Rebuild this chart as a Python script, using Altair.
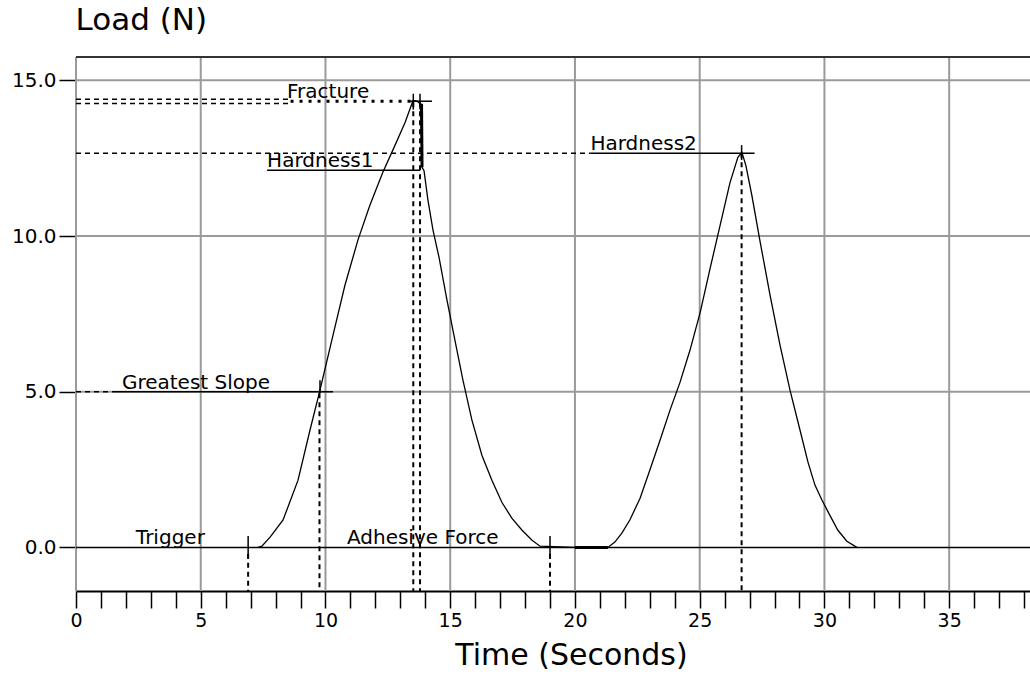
import altair as alt
import pandas as pd

# ---------------- axis ranges / ticks ----------------
X_MIN, X_MAX = 0.0, 38.24
Y_MIN, Y_MAX = -1.40, 15.75
x_ticks = list(range(0, 39))
y_ticks = [0, 5, 10, 15]
grid_x = [0, 5, 10, 15, 20, 25, 30, 35]
grid_y = [5, 10, 15]

# ---------------- measured trace ----------------
time_s = [7.30, 7.45, 7.78, 8.30, 8.90, 9.38, 9.78, 10.30, 10.78, 11.30,
          11.78, 12.30, 12.79, 13.19, 13.51, 13.67, 13.83, 13.87, 13.95, 14.11,
          14.31, 14.55, 14.87, 15.19, 15.51, 15.87, 16.27, 16.67, 17.07, 17.47,
          17.88, 18.28, 18.60, 20.00, 21.32, 21.60, 21.88, 22.20, 22.61, 23.00,
          23.41, 23.81, 24.21, 24.61, 25.02, 25.42, 25.82, 26.21, 26.53, 26.69,
          26.85, 27.09, 27.41, 27.82, 28.22, 28.62, 29.02, 29.34, 29.62, 29.90,
          30.22, 30.54, 30.90, 31.30]
load_n = [0.00, 0.04, 0.33, 0.88, 2.16, 3.77, 5.05, 6.81, 8.42, 9.87,
          10.99, 12.05, 12.92, 13.65, 14.35, 14.33, 14.23, 12.21, 12.10, 11.14,
          10.19, 9.32, 7.94, 6.65, 5.37, 4.09, 2.96, 2.16, 1.45, 0.94,
          0.55, 0.23, 0.04, 0.00, 0.00, 0.17, 0.46, 0.88, 1.58, 2.48,
          3.44, 4.41, 5.30, 6.33, 7.55, 8.97, 10.35, 11.70, 12.53, 12.69,
          12.27, 11.31, 9.87, 8.10, 6.50, 5.05, 3.77, 2.74, 2.00, 1.52,
          1.03, 0.55, 0.20, 0.00]

# thicker pieces of the trace
thick_seg = ["drop", "drop", "flat", "flat"]
thick_t = [13.85, 13.87, 20.0, 21.32]
thick_l = [14.25, 12.21, 0.0, 0.0]

# ---------------- annotations ----------------
label_text = ["Fracture", "Hardness1", "Hardness2", "Greatest Slope", "Trigger", "Adhesive Force"]
label_t = [8.46, 7.66, 20.62, 1.84, 2.40, 10.86]
label_l = [14.33, 12.11, 12.66, 5.0, 0.0, 0.0]

# solid underline segments (t1, t2, load)
under_t1 = [7.66, 20.62, 1.56, 13.40]
under_t2 = [13.79, 27.20, 10.30, 14.27]
under_l = [12.11, 12.66, 5.0, 14.33]

# dotted fracture underline
dot_t1 = [8.60]
dot_t2 = [13.50]
dot_l = [14.33]

# dashed horizontal guides (from t=0)
guide_t2 = [8.60, 8.60, 20.62, 1.56]
guide_l = [14.39, 14.26, 12.66, 5.0]

# dashed vertical event lines
event_t = [6.90, 9.76, 13.52, 13.79, 19.00, 26.68]
event_top = [-0.2, 4.95, 14.30, 14.30, -0.2, 12.66]

# short solid crosshair ticks
cross_t = [6.90, 9.78, 13.52, 13.79, 19.00, 26.68]
cross_lo = [-0.37, 4.95, 14.06, 14.06, -0.37, 12.44]
cross_hi = [0.37, 5.37, 14.57, 14.57, 0.37, 12.92]

FONT = "DejaVu Sans"

xs = alt.Scale(domain=[X_MIN, X_MAX], nice=False, zero=False)
ys = alt.Scale(domain=[Y_MIN, Y_MAX], nice=False, zero=False)

x_axis = alt.Axis(values=x_ticks,
                  labelExpr="datum.value % 5 === 0 ? datum.label : ''",
                  tickSize=17, tickColor="black", tickWidth=1.5,
                  domainColor="black", domainWidth=2, grid=False,
                  labelFont=FONT, labelFontSize=19, labelColor="black",
                  labelPadding=3, labelFlush=False, labelOverlap=False,
                  titleFont=FONT, titleFontSize=30, titleFontWeight="normal",
                  titleColor="black", titleX=495, titleY=73,
                  titleAlign="center", titleBaseline="alphabetic")
y_axis = alt.Axis(values=y_ticks, format=".1f", tickSize=17,
                  tickColor="black", tickWidth=1.5, domain=False, grid=False,
                  labelFont=FONT, labelFontSize=20, labelColor="black",
                  labelPadding=3,
                  titleFont=FONT, titleFontSize=31, titleFontWeight="normal",
                  titleColor="black", titleAngle=0, titleX=-1, titleY=-28,
                  titleAlign="left", titleBaseline="alphabetic")


def X(f):
    return alt.X(f, type="quantitative", scale=xs, axis=x_axis, title="Time (Seconds)")


def Y(f):
    return alt.Y(f, type="quantitative", scale=ys, axis=y_axis, title="Load (N)")


# grid lines
vgrid = pd.DataFrame({"t": grid_x, "lo": Y_MIN, "hi": Y_MAX})
hgrid = pd.DataFrame({"l": grid_y, "t1": X_MIN, "t2": X_MAX})

vgrid_layer = alt.Chart(vgrid).mark_rule(color="#9a9a9a", strokeWidth=2).encode(
    x=X("t"), y=Y("lo"), y2="hi:Q"
)
hgrid_layer = alt.Chart(hgrid).mark_rule(color="#9a9a9a", strokeWidth=2).encode(
    x=X("t1"), x2="t2:Q", y=Y("l")
)

frame = pd.DataFrame({"t1": [X_MIN], "t2": [X_MAX], "l": [Y_MAX], "z": [0.0]})
top_layer = alt.Chart(frame).mark_rule(color="#333333", strokeWidth=2).encode(
    x=X("t1"), x2="t2:Q", y=Y("l")
)
zero_layer = alt.Chart(frame).mark_rule(color="black", strokeWidth=1.5).encode(
    x=X("t1"), x2="t2:Q", y=Y("z")
)

trace = pd.DataFrame({"t": time_s, "load": load_n})
trace_layer = alt.Chart(trace).mark_line(color="black", strokeWidth=1.3).encode(
    x=X("t"), y=Y("load"), order="t:Q"
)

thick = pd.DataFrame({"seg": thick_seg, "t": thick_t, "load": thick_l})
thick_layer = alt.Chart(thick).mark_line(color="black", strokeWidth=3).encode(
    x=X("t"), y=Y("load"), detail="seg:N"
)

guides = pd.DataFrame({"t1": 0.0, "t2": guide_t2, "l": guide_l})
guide_layer = alt.Chart(guides).mark_rule(color="black", strokeWidth=1.5,
                                          strokeDash=[5, 4]).encode(
    x=X("t1"), x2="t2:Q", y=Y("l")
)

events = pd.DataFrame({"t": event_t, "top": event_top, "bot": Y_MIN})
event_layer = alt.Chart(events).mark_rule(color="black", strokeWidth=2,
                                          strokeDash=[5, 4]).encode(
    x=X("t"), y=Y("top"), y2="bot:Q"
)

unders = pd.DataFrame({"t1": under_t1, "t2": under_t2, "l": under_l})
under_layer = alt.Chart(unders).mark_rule(color="black", strokeWidth=1.5).encode(
    x=X("t1"), x2="t2:Q", y=Y("l")
)

dots = pd.DataFrame({"t1": dot_t1, "t2": dot_t2, "l": dot_l})
dot_layer = alt.Chart(dots).mark_rule(color="black", strokeWidth=3,
                                      strokeDash=[3, 6]).encode(
    x=X("t1"), x2="t2:Q", y=Y("l")
)

crosses = pd.DataFrame({"t": cross_t, "lo": cross_lo, "hi": cross_hi})
cross_layer = alt.Chart(crosses).mark_rule(color="black", strokeWidth=1.5).encode(
    x=X("t"), y=Y("lo"), y2="hi:Q"
)

labels = pd.DataFrame({"text": label_text, "t": label_t, "l": label_l})
label_layer = alt.Chart(labels).mark_text(align="left", baseline="alphabetic", dy=-3,
                                          font=FONT, fontSize=20, color="black").encode(
    x=X("t"), y=Y("l"), text="text:N"
)

chart = alt.layer(
    vgrid_layer, hgrid_layer, top_layer, zero_layer, guide_layer, event_layer,
    trace_layer, thick_layer, under_layer, dot_layer, cross_layer, label_layer
).properties(
    width=954, height=534,
    padding={"left": 76, "top": 57, "right": 0, "bottom": 83},
    autosize=alt.AutoSizeParams(type="none"),
    background="white",
).configure_view(stroke=None)

chart.save("out.html", embed_options={"renderer": "svg", "actions": False})
